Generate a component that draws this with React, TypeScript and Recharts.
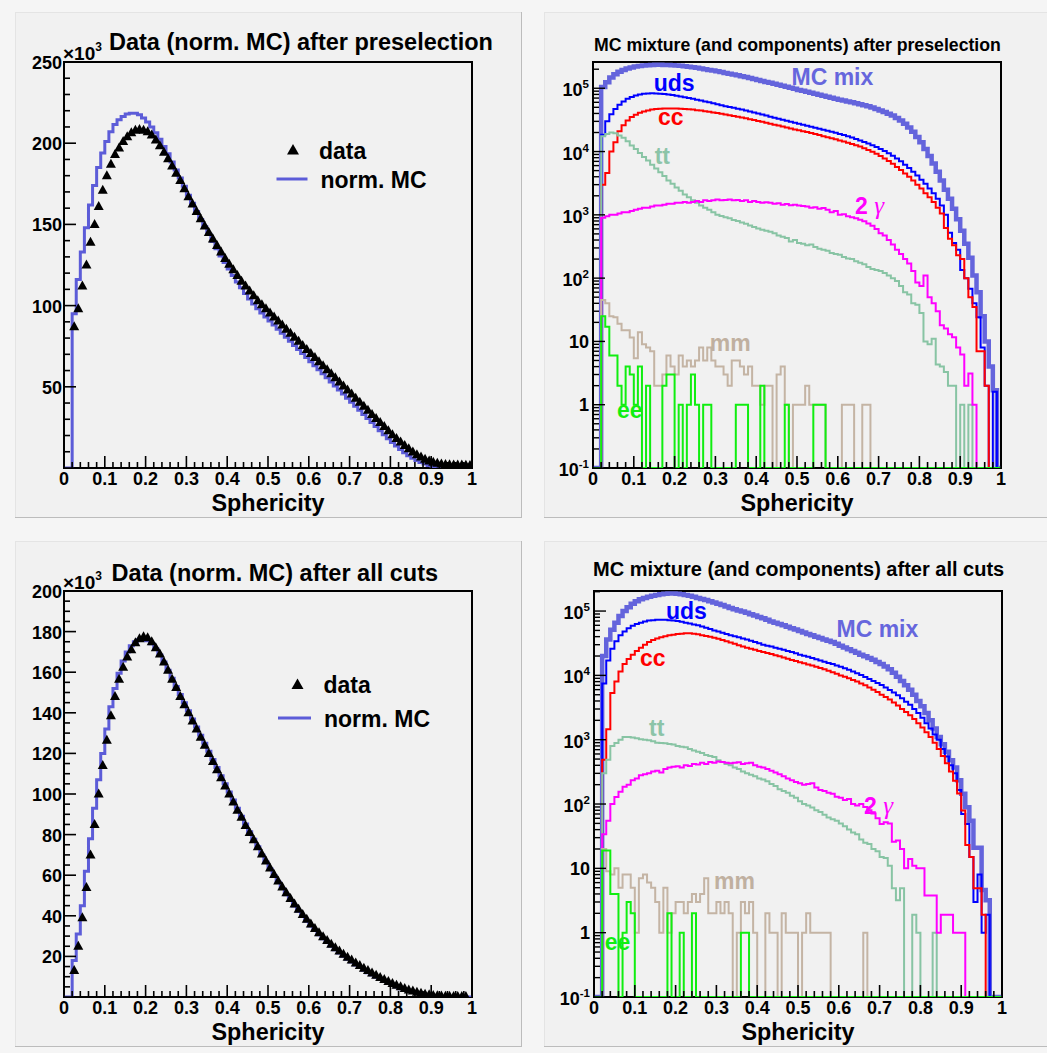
import React from "react";
import { ComposedChart, Line, Scatter, XAxis, YAxis } from "recharts";

const FONT = '"Liberation Sans", Arial, Helvetica, sans-serif';

// ---------- colours ----------
const C_MC = "#5c5cd8";
const C_MIX = "#6464dc";
const C_UDS = "#0000ff";
const C_CC = "#ff0000";
const C_TT = "#88c4a4";
const C_GG = "#ff00ff";
const C_MM = "#c4b4a4";
const C_EE = "#10ee10";

// ---------- top-left: data vs norm. MC after preselection (x10^3) ----------
const TL_MC = [
  0, 0, 95, 116, 133, 148, 162, 174, 185, 194,
  201, 207, 211.5, 214.5, 216.5, 218, 218.5, 218.5, 217.5, 215.5,
  213, 210, 206.5, 202.5, 198, 193.5, 188.5, 183.5, 178.5, 173.5,
  168, 163, 158, 153, 148.5, 144, 139.5, 135, 130.5, 126.5,
  122.5, 118.5, 114.5, 111, 107.5, 104, 101, 98, 95.5, 93,
  90.5, 88, 85.5, 83, 80.5, 78, 75.5, 73, 70.5, 68,
  65.5, 63, 60.5, 58, 55.5, 53, 50.5, 48, 45.5, 43,
  40.5, 38, 35.5, 33, 30.5, 28, 25.5, 23, 20.5, 18,
  15.7, 13.5, 11.4, 9.4, 7.6, 6, 4.6, 3.4, 2.4, 1.6,
  1.0, 0.6, 0.35, 0.2, 0.12, 0.08, 0.05, 0.04, 0.03, 0.02,
];
const TL_DATA: (number | null)[] = [
  null, null, 87, 98, 112, 125, 139, 150, 161, 171,
  180, 187, 193, 197, 201, 204, 206.5, 208, 208.5, 208,
  207, 205, 202, 198.5, 194.5, 190.5, 186, 181.5, 177, 172,
  167, 162.5, 158, 153.5, 149, 145, 141, 137, 133, 129,
  125.5, 122, 118.5, 115, 112, 109, 106, 103, 100.5, 98,
  95.5, 93, 90.5, 88, 85.5, 83, 80.5, 78, 75.5, 73,
  70.5, 68, 65.5, 63, 60.5, 58, 55.5, 53, 50.5, 48,
  45.5, 43, 40.5, 38, 35.5, 33, 30.5, 28, 25.5, 23,
  20.5, 18.2, 16, 13.8, 11.8, 9.9, 8.2, 6.7, 5.4, 4.3,
  3.5, 2.9, 2.5, 2.2, 2.0, 1.9, 1.8, 1.8, 1.7, 1.6,
];

// ---------- bottom-left: data vs norm. MC after all cuts (x10^3) ----------
const BL_MC = [
  0, 0, 18, 31, 45, 62, 78, 93, 107, 120,
  132, 143, 152, 159.5, 165.5, 170, 173, 175, 176, 176,
  175.5, 174, 171.5, 168.5, 165, 161, 157, 153, 149, 145,
  141, 137, 133, 129, 125, 121, 117, 113, 109, 105,
  101, 97, 93, 89, 85.2, 81.4, 77.7, 74, 70, 66.5,
  63, 59.7, 56.5, 53.4, 50.4, 47.5, 44.8, 42.2, 39.7, 37.3,
  35, 32.8, 30.7, 28.7, 26.8, 25, 23.3, 21.7, 20.1, 18.6,
  17.2, 15.8, 14.5, 13.2, 12, 10.8, 9.7, 8.6, 7.6, 6.6,
  5.7, 4.9, 4.1, 3.4, 2.8, 2.2, 1.7, 1.3, 1.0, 0.7,
  0.5, 0.35, 0.25, 0.15, 0.1, 0.06, 0.04, 0.03, 0.02, 0.01,
];
const BL_DATA: (number | null)[] = [
  null, null, 13, 25, 39, 54, 70, 85, 100, 114,
  126.5, 138.5, 148, 156.5, 162.5, 167.5, 171, 174.5, 176.5, 177.5,
  177, 175, 172, 169, 165, 161, 156.5, 152.5, 148, 144,
  140, 136, 132, 128, 124, 120, 116, 112, 108, 104,
  100, 96, 92, 88.5, 84.5, 81, 77.5, 74, 70.5, 67,
  63.5, 60.3, 57.2, 54.2, 51.3, 48.5, 45.8, 43.2, 40.7, 38.3,
  36, 33.8, 31.7, 29.7, 27.8, 26, 24.3, 22.7, 21.1, 19.6,
  18.2, 16.8, 15.5, 14.2, 13, 11.8, 10.7, 9.6, 8.6, 7.6,
  6.7, 5.8, 5, 4.2, 3.5, 2.9, 2.3, 1.8, 1.4, 1.1,
  0.8, 0.6, 0.5, 0.4, 0.35, 0.3, 0.3, 0.2, 0.2, null,
];

// ---------- top-right: MC mixture and components after preselection ----------
const TR_MIX = [
  0, 0, 1.05e5, 1.25e5, 1.48e5, 1.66e5, 1.82e5, 1.95e5, 2.05e5, 2.13e5,
  2.2e5, 2.25e5, 2.29e5, 2.32e5, 2.34e5, 2.35e5, 2.35e5, 2.34e5, 2.33e5, 2.31e5,
  2.29e5, 2.26e5, 2.22e5, 2.18e5, 2.14e5, 2.1e5, 2.05e5, 2.0e5, 1.95e5, 1.9e5,
  1.85e5, 1.8e5, 1.75e5, 1.7e5, 1.65e5, 1.6e5, 1.55e5, 1.5e5, 1.45e5, 1.4e5,
  1.35e5, 1.3e5, 1.26e5, 1.22e5, 1.18e5, 1.14e5, 1.1e5, 1.06e5, 1.02e5, 9.8e4,
  9.4e4, 9.1e4, 8.8e4, 8.5e4, 8.2e4, 7.9e4, 7.6e4, 7.35e4, 7.1e4, 6.85e4,
  6.6e4, 6.4e4, 6.2e4, 6.0e4, 5.8e4, 5.6e4, 5.4e4, 5.2e4, 4.95e4, 4.7e4,
  4.45e4, 4.2e4, 3.95e4, 3.7e4, 3.4e4, 3.1e4, 2.75e4, 2.4e4, 2.05e4, 1.7e4,
  1.4e4, 1.1e4, 8.5e3, 6.5e3, 4.8e3, 3.5e3, 2.5e3, 1.8e3, 1.25e3, 850,
  560, 350, 210, 110, 60, 25, 10, 4, 1.7, 0,
];
const TR_UDS = [
  0, 0, 1.85e4, 3.0e4, 3.9e4, 4.7e4, 5.5e4, 6.2e4, 6.8e4, 7.3e4,
  7.7e4, 8.0e4, 8.2e4, 8.3e4, 8.35e4, 8.3e4, 8.2e4, 8.1e4, 7.95e4, 7.8e4,
  7.6e4, 7.4e4, 7.2e4, 7.0e4, 6.8e4, 6.6e4, 6.4e4, 6.2e4, 6.0e4, 5.8e4,
  5.6e4, 5.4e4, 5.2e4, 5.05e4, 4.9e4, 4.75e4, 4.6e4, 4.45e4, 4.3e4, 4.15e4,
  4.0e4, 3.85e4, 3.7e4, 3.55e4, 3.42e4, 3.3e4, 3.18e4, 3.06e4, 2.95e4, 2.85e4,
  2.75e4, 2.65e4, 2.56e4, 2.47e4, 2.38e4, 2.3e4, 2.22e4, 2.14e4, 2.06e4, 1.98e4,
  1.9e4, 1.82e4, 1.74e4, 1.66e4, 1.58e4, 1.5e4, 1.42e4, 1.34e4, 1.26e4, 1.18e4,
  1.1e4, 1.02e4, 9.4e3, 8.6e3, 7.8e3, 7.0e3, 6.2e3, 5.5e3, 4.8e3, 4.2e3,
  3.6e3, 3.1e3, 2.6e3, 2.2e3, 1.8e3, 1.4e3, 1.0e3, 520, 360, 280,
  135, 100, 68, 40, 24, 8, 2, 0, 1.6, 0,
];
const TR_CC = [
  0, 0, 3.0e3, 4.6e3, 1.0e4, 1.4e4, 2.1e4, 2.6e4, 3.1e4, 3.5e4,
  3.8e4, 4.1e4, 4.3e4, 4.45e4, 4.6e4, 4.7e4, 4.75e4, 4.8e4, 4.8e4, 4.8e4,
  4.8e4, 4.75e4, 4.7e4, 4.65e4, 4.6e4, 4.5e4, 4.45e4, 4.35e4, 4.25e4, 4.15e4,
  4.05e4, 3.95e4, 3.85e4, 3.75e4, 3.65e4, 3.55e4, 3.45e4, 3.35e4, 3.25e4, 3.15e4,
  3.05e4, 2.95e4, 2.85e4, 2.75e4, 2.66e4, 2.57e4, 2.48e4, 2.4e4, 2.32e4, 2.24e4,
  2.17e4, 2.1e4, 2.03e4, 1.96e4, 1.89e4, 1.82e4, 1.75e4, 1.68e4, 1.62e4, 1.56e4,
  1.5e4, 1.44e4, 1.38e4, 1.32e4, 1.26e4, 1.2e4, 1.13e4, 1.06e4, 9.9e3, 9.2e3,
  8.5e3, 7.8e3, 7.1e3, 6.4e3, 5.7e3, 5.1e3, 4.5e3, 4.0e3, 3.5e3, 3.0e3,
  2.6e3, 2.2e3, 1.9e3, 1.6e3, 1.3e3, 1.05e3, 620, 420, 330, 230,
  200, 100, 50, 35, 7, 7, 2, 0, 0, 0,
];
const TR_TT = [
  0, 0, 1.75e4, 1.9e4, 2.0e4, 1.95e4, 1.8e4, 1.65e4, 1.45e4, 1.25e4,
  1.1e4, 9.5e3, 8.2e3, 7.2e3, 6.2e3, 5.4e3, 4.7e3, 4.1e3, 3.5e3, 3.1e3,
  2.7e3, 2.4e3, 2.1e3, 1.9e3, 1.7e3, 1.55e3, 1.4e3, 1.3e3, 1.2e3, 1.1e3,
  1.0e3, 960, 920, 880, 830, 800, 760, 720, 680, 640,
  610, 580, 560, 540, 510, 470, 450, 430, 380, 400,
  360, 350, 330, 340, 310, 290, 280, 270, 250, 240,
  235, 215, 205, 200, 185, 175, 165, 150, 140, 135,
  130, 120, 110, 100, 90, 75, 60, 55, 40, 38,
  28, 10, 9, 11, 4.3, 4, 3.3, 2, 2, 0,
  1, 0, 1, 0, 0, 0, 0, 0, 0, 0,
];
const TR_GG = [
  0, 0, 900, 950, 1000, 1.0e3, 1.05e3, 1.1e3, 1.1e3, 1.15e3,
  1.2e3, 1.25e3, 1.3e3, 1.3e3, 1.35e3, 1.4e3, 1.4e3, 1.45e3, 1.5e3, 1.5e3,
  1.55e3, 1.55e3, 1.6e3, 1.55e3, 1.6e3, 1.65e3, 1.6e3, 1.7e3, 1.65e3, 1.7e3,
  1.75e3, 1.7e3, 1.72e3, 1.75e3, 1.7e3, 1.72e3, 1.65e3, 1.7e3, 1.6e3, 1.65e3,
  1.6e3, 1.55e3, 1.58e3, 1.55e3, 1.5e3, 1.52e3, 1.45e3, 1.48e3, 1.42e3, 1.45e3,
  1.4e3, 1.38e3, 1.35e3, 1.3e3, 1.32e3, 1.25e3, 1.28e3, 1.2e3, 1.1e3, 1.15e3,
  1.0e3, 1.02e3, 950, 920, 880, 840, 790, 730, 670, 600,
  510, 470, 400, 340, 280, 240, 200, 170, 130, 85,
  75, 110, 50, 40, 30, 18, 16, 13, 11.6, 8,
  6.2, 2, 3.1, 1, 0, 0, 0, 0, 0, 0,
];
const TR_MM = [
  0, 0, 45, 40, 25, 24, 19, 15, 15, 11.5,
  5.4, 14, 9, 8, 7, 2, 2, 3, 6, 4,
  3, 6, 4, 5, 4, 5, 8, 5, 8, 5,
  4, 4, 3, 2, 5, 5, 4, 3, 4, 2,
  2, 1, 2, 2, 0, 3, 4, 1, 0, 1,
  1, 1, 2, 1, 1, 1, 1, 0, 0, 0,
  0, 1, 1, 1, 0, 0, 1, 1, 0, 0,
  0, 0, 0, 0, 0, 0, 0, 0, 0, 0,
  0, 0, 0, 0, 0, 0, 0, 0, 0, 0,
  0, 0, 0, 0, 0, 0, 0, 0, 0, 0,
];
const TR_EE = [
  0, 0, 25, 17, 6, 6, 2, 1, 4, 3,
  1, 4, 0, 2, 0, 0, 0, 2, 3, 3,
  0, 1, 0, 1, 3, 1, 0, 1, 1, 0,
  0, 0, 0, 0, 0, 1, 1, 1, 0, 0,
  0, 2, 0, 0, 0, 0, 0, 1, 0, 0,
  0, 0, 0, 0, 1, 1, 1, 0, 0, 0,
  0, 0, 0, 0, 0, 0, 0, 0, 0, 0,
  0, 0, 0, 0, 0, 0, 0, 0, 0, 0,
  0, 0, 0, 0, 0, 0, 0, 0, 0, 0,
  0, 0, 0, 0, 0, 0, 0, 0, 0, 0,
];

// ---------- bottom-right: MC mixture and components after all cuts ----------
const BR_MIX = [
  0, 0, 2.0e4, 3.6e4, 5.1e4, 6.6e4, 8.4e4, 1.0e5, 1.15e5, 1.3e5,
  1.42e5, 1.52e5, 1.6e5, 1.67e5, 1.73e5, 1.78e5, 1.82e5, 1.85e5, 1.87e5, 1.88e5,
  1.86e5, 1.83e5, 1.78e5, 1.73e5, 1.67e5, 1.6e5, 1.54e5, 1.48e5, 1.42e5, 1.36e5,
  1.3e5, 1.24e5, 1.18e5, 1.12e5, 1.07e5, 1.02e5, 9.8e4, 9.4e4, 8.9e4, 8.5e4,
  8.1e4, 7.7e4, 7.3e4, 6.9e4, 6.6e4, 6.3e4, 6.0e4, 5.7e4, 5.4e4, 5.15e4,
  4.9e4, 4.65e4, 4.4e4, 4.2e4, 4.0e4, 3.8e4, 3.6e4, 3.45e4, 3.3e4, 3.1e4,
  2.9e4, 2.72e4, 2.55e4, 2.4e4, 2.25e4, 2.1e4, 1.98e4, 1.86e4, 1.75e4, 1.62e4,
  1.5e4, 1.38e4, 1.25e4, 1.1e4, 9.5e3, 8.2e3, 7.0e3, 6.0e3, 5.0e3, 4.0e3,
  3.3e3, 2.6e3, 2.0e3, 1.5e3, 1.1e3, 850, 650, 480, 370, 234,
  145, 89, 55, 21, 21, 4.6, 3.2, 0, 0, 0,
];
const BR_UDS = [
  0, 0, 7.5e3, 1.7e4, 2.6e4, 3.4e4, 4.2e4, 4.8e4, 5.4e4, 5.9e4,
  6.3e4, 6.6e4, 6.9e4, 7.1e4, 7.2e4, 7.3e4, 7.35e4, 7.3e4, 7.2e4, 7.1e4,
  7.0e4, 6.8e4, 6.6e4, 6.4e4, 6.2e4, 6.0e4, 5.75e4, 5.5e4, 5.25e4, 5.0e4,
  4.8e4, 4.6e4, 4.4e4, 4.2e4, 4.05e4, 3.9e4, 3.75e4, 3.6e4, 3.45e4, 3.3e4,
  3.15e4, 3.0e4, 2.9e4, 2.8e4, 2.7e4, 2.6e4, 2.5e4, 2.4e4, 2.3e4, 2.2e4,
  2.1e4, 2.02e4, 1.94e4, 1.86e4, 1.78e4, 1.7e4, 1.63e4, 1.56e4, 1.5e4, 1.43e4,
  1.36e4, 1.29e4, 1.22e4, 1.15e4, 1.08e4, 1.01e4, 9.4e3, 8.8e3, 8.2e3, 7.6e3,
  7.1e3, 6.5e3, 5.9e3, 5.4e3, 4.9e3, 4.4e3, 3.9e3, 3.5e3, 3.0e3, 2.6e3,
  2.2e3, 1.8e3, 1.5e3, 1.2e3, 1.0e3, 720, 550, 400, 300, 165,
  70, 49, 15, 3, 8, 1, 1.9, 0, 0, 0,
];
const BR_CC = [
  0, 0, 490, 1.45e3, 5.3e3, 8e3, 1.15e4, 1.5e4, 1.8e4, 2.1e4,
  2.4e4, 2.7e4, 3.0e4, 3.3e4, 3.55e4, 3.75e4, 3.9e4, 4.05e4, 4.2e4, 4.3e4,
  4.4e4, 4.45e4, 4.5e4, 4.5e4, 4.45e4, 4.35e4, 4.2e4, 4.1e4, 3.98e4, 3.85e4,
  3.7e4, 3.55e4, 3.4e4, 3.25e4, 3.1e4, 2.95e4, 2.8e4, 2.7e4, 2.6e4, 2.5e4,
  2.4e4, 2.3e4, 2.22e4, 2.14e4, 2.06e4, 1.98e4, 1.9e4, 1.82e4, 1.74e4, 1.67e4,
  1.6e4, 1.54e4, 1.48e4, 1.42e4, 1.36e4, 1.3e4, 1.24e4, 1.18e4, 1.12e4, 1.06e4,
  1.0e4, 9.5e3, 9.0e3, 8.5e3, 8.0e3, 7.5e3, 7.0e3, 6.5e3, 6.0e3, 5.5e3,
  5.0e3, 4.6e3, 4.2e3, 3.8e3, 3.4e3, 3.0e3, 2.7e3, 2.4e3, 2.1e3, 1.8e3,
  1.55e3, 1.3e3, 1.1e3, 900, 720, 560, 430, 320, 230, 146,
  79, 23, 15, 4.9, 4.9, 1.9, 0, 0, 0, 0,
];
const BR_TT = [
  0, 0, 300, 490, 800, 890, 1.0e3, 1.1e3, 1.1e3, 1.08e3,
  1.05e3, 1.02e3, 1.0e3, 980, 950, 900, 890, 880, 860, 840,
  800, 780, 760, 720, 680, 650, 620, 580, 560, 540,
  480, 450, 420, 400, 370, 350, 320, 300, 285, 270,
  250, 240, 225, 205, 190, 170, 160, 150, 135, 125,
  110, 100, 95, 88, 80, 75, 68, 62, 58, 55,
  50, 45, 40, 36, 34, 28, 25, 24, 20, 18.5,
  15, 14.5, 11, 4.9, 3.2, 4.9, 0, 0, 1.9, 1,
  0, 0, 0, 1, 0, 0, 0, 0, 0, 0,
  0, 0, 0, 0, 0, 0, 0, 0, 0, 0,
];
const BR_GG = [
  0, 0, 34, 55, 100, 129, 155, 186, 200, 234,
  250, 280, 290, 300, 320, 330, 310, 350, 370, 380,
  385, 370, 400, 390, 420, 410, 440, 420, 450, 440,
  460, 450, 440, 430, 440, 445, 420, 430, 440, 400,
  380, 370, 350, 330, 310, 290, 270, 250, 234, 220,
  210, 200, 205, 210, 180, 165, 160, 150, 145, 130,
  125, 115, 120, 100, 95, 100, 90, 80, 71, 60,
  49, 52, 50, 26, 27, 20, 10, 14, 11, 10,
  10, 3.8, 3.8, 3.8, 1, 1.9, 1.9, 1.9, 1, 1,
  1, 0, 0, 0, 0, 0, 0, 0, 0, 0,
];
const BR_MM = [
  0, 0, 20, 9, 8, 10, 5, 8, 8, 5,
  1, 7, 8, 6, 5, 3, 1, 5, 1, 2,
  3, 3, 2, 3, 4, 3, 4, 7, 2, 2,
  3, 2, 3, 2, 0, 1, 3, 2, 3, 1,
  0, 0, 2, 1, 1, 0, 2, 1, 1, 1,
  0, 1, 2, 1, 1, 1, 1, 1, 0, 0,
  0, 0, 0, 0, 0, 0, 1, 0, 0, 0,
  0, 0, 0, 0, 0, 0, 0, 0, 0, 0,
  0, 0, 0, 0, 0, 0, 0, 0, 0, 0,
  0, 0, 0, 0, 0, 0, 0, 0, 0, 0,
];
const BR_EE = [
  0, 0, 19, 19, 4, 4, 0, 1, 3, 2,
  0, 0, 0, 0, 0, 0, 0, 0, 2, 0,
  0, 1, 0, 0, 2, 0, 0, 0, 0, 0,
  0, 0, 0, 0, 0, 0, 1, 1, 0, 0,
  0, 0, 0, 0, 0, 0, 0, 0, 0, 0,
  0, 0, 0, 0, 0, 0, 0, 0, 0, 0,
  0, 0, 0, 0, 0, 0, 0, 0, 0, 0,
  0, 0, 0, 0, 0, 0, 0, 0, 0, 0,
  0, 0, 0, 0, 0, 0, 0, 0, 0, 0,
  0, 0, 0, 0, 0, 0, 0, 0, 0, 0,
];

// ---------- axis tick lists ----------
const NBINS = 100;
const X_TICKS = Array.from({ length: 51 }, (_, i) => i / 50);
const TL_Y_TICKS = Array.from({ length: 26 }, (_, i) => i * 10);
const BL_Y_TICKS = Array.from({ length: 41 }, (_, i) => i * 5);
function logTicks(max: number) {
  const out: number[] = [];
  for (let e = -1; e <= 5; e++) {
    for (let m = 1; m <= 9; m++) {
      const v = m * Math.pow(10, e);
      if (v <= max * 1.0001) out.push(v);
    }
  }
  return out;
}
const TR_YMAX = 2.6e5;
const BR_YMAX = 2.05e5;

// ---------- table builders ----------
type Row = { x: number; y: number };
function stepRows(vals: number[], floor: number): Row[] {
  const rows: Row[] = vals.map((v, i) => ({ x: i / NBINS, y: Math.max(v, floor) }));
  rows.push({ x: 1, y: rows[rows.length - 1].y });
  return rows;
}
function pointRows(vals: (number | null)[]): Row[] {
  const out: Row[] = [];
  vals.forEach((v, i) => {
    if (v !== null) out.push({ x: (i + 0.5) / NBINS, y: v });
  });
  return out;
}

// ---------- tick renderers ----------
function XTick(props: any) {
  const { x, y, payload } = props;
  const k = Math.round(payload.value * 50);
  const major = k % 5 === 0;
  const label = k === 0 ? "0" : k === 50 ? "1" : (k / 50).toFixed(1);
  return (
    <g>
      <line x1={x} x2={x} y1={y} y2={y - (major ? 12 : 6)} stroke="#000" strokeWidth={1.6} />
      {major && (
        <text x={x} y={y + 17} textAnchor="middle" fontFamily={FONT} fontWeight="bold" fontSize={18} fill="#000">
          {label}
        </text>
      )}
    </g>
  );
}
function makeLinYTick(majorStep: number) {
  return function LinYTick(props: any) {
    const { x, y, payload } = props;
    const v = payload.value as number;
    const major = Math.abs(v / majorStep - Math.round(v / majorStep)) < 1e-6;
    return (
      <g>
        <line x1={x} x2={x + (major ? 12 : 6)} y1={y} y2={y} stroke="#000" strokeWidth={1.6} />
        {major && v > 0 && (
          <text x={x - 2} y={y + 7} textAnchor="end" fontFamily={FONT} fontWeight="bold" fontSize={18} fill="#000">
            {v}
          </text>
        )}
      </g>
    );
  };
}
function LogYTick(props: any) {
  const { x, y, payload } = props;
  const v = payload.value as number;
  const lg = Math.log10(v);
  const e = Math.round(lg);
  const major = Math.abs(lg - e) < 1e-6;
  let label: React.ReactNode = null;
  if (major) {
    if (e === 0) label = <text x={x - 4} y={y + 6.5} textAnchor="end" fontFamily={FONT} fontWeight="bold" fontSize={18} fill="#000">1</text>;
    else if (e === 1) label = <text x={x - 4} y={y + 6.5} textAnchor="end" fontFamily={FONT} fontWeight="bold" fontSize={18} fill="#000">10</text>;
    else
      label = (
        <text x={x - 4} y={y + 8} textAnchor="end" fontFamily={FONT} fontWeight="bold" fontSize={18} fill="#000">
          10<tspan dy={-8} fontSize={11.5}>{e}</tspan>
        </text>
      );
  }
  return (
    <g>
      <line x1={x} x2={x + (major ? 12 : 6)} y1={y} y2={y} stroke="#000" strokeWidth={1.4} />
      {label}
    </g>
  );
}

const Tri = (props: any) => {
  const { cx, cy } = props;
  if (cx == null || cy == null) return <g />;
  return <polygon points={`${cx},${cy - 5.5} ${cx - 5},${cy + 3.5} ${cx + 5},${cy + 3.5}`} fill="#000" />;
};

// ---------- panel frame ----------
const PW = 408;
const PH = 406;
type Cfg = { left: number; top: number; w: number; h: number; px: number; py: number; rightBorder: boolean };
const CFG_TL: Cfg = { left: 15, top: 12, w: 507, h: 506, px: 49, py: 50, rightBorder: true };
const CFG_TR: Cfg = { left: 544, top: 12, w: 503, h: 506, px: 49, py: 50, rightBorder: false };
const CFG_BL: Cfg = { left: 15, top: 541, w: 507, h: 506, px: 49, py: 50, rightBorder: true };
const CFG_BR: Cfg = { left: 544, top: 541, w: 503, h: 506, px: 50, py: 50, rightBorder: false };

function Panel(props: { cfg: Cfg; yAxis: React.ReactElement; series: React.ReactElement[]; overlay: React.ReactNode }) {
  const { cfg, yAxis, series, overlay } = props;
  const { left, top, w, h, px, py } = cfg;
  return (
    <div style={{ position: "absolute", left, top, width: w, height: h }}>
      <svg width={w} height={h} style={{ position: "absolute", left: 0, top: 0 }}>
        <rect x={0} y={0} width={w} height={h} fill="#f1f1f1" />
        <line x1={0} y1={0.5} x2={w} y2={0.5} stroke="#e4e4e4" />
        <line x1={0.5} y1={0} x2={0.5} y2={h} stroke="#e4e4e4" />
        <line x1={0} y1={h - 0.5} x2={w} y2={h - 0.5} stroke="#bcbcbc" />
        {cfg.rightBorder && <line x1={w - 0.5} y1={0} x2={w - 0.5} y2={h} stroke="#bcbcbc" />}
        <rect x={px} y={py} width={PW} height={PH} fill="none" stroke="#000" strokeWidth={2} />
      </svg>
      <div style={{ position: "absolute", left: 0, top: 0 }}>
        <ComposedChart
          width={w}
          height={h}
          margin={{ top: py, left: px - 1, right: w - px - PW, bottom: h - py - PH - 1 }}
        >
          <XAxis
            type="number"
            dataKey="x"
            domain={[0, 1]}
            ticks={X_TICKS}
            interval={0}
            tick={XTick}
            tickLine={false}
            axisLine={false}
            tickSize={0}
            tickMargin={0}
            height={1}
            allowDataOverflow
          />
          {yAxis}
          {series}
        </ComposedChart>
      </div>
      <svg width={w} height={h} style={{ position: "absolute", left: 0, top: 0, pointerEvents: "none" }}>
        {overlay}
      </svg>
    </div>
  );
}

const T = (p: any) => <text fontFamily={FONT} fontWeight="bold" {...p} />;

function linYAxis(max: number, ticks: number[], majorStep: number) {
  return (
    <YAxis
      key="y"
      type="number"
      dataKey="y"
      domain={[0, max]}
      ticks={ticks}
      interval={0}
      tick={makeLinYTick(majorStep)}
      tickLine={false}
      axisLine={false}
      tickSize={0}
      tickMargin={0}
      width={1}
      allowDataOverflow
    />
  );
}
function logYAxis(max: number) {
  return (
    <YAxis
      key="y"
      type="number"
      dataKey="y"
      scale="log"
      domain={[0.1, max]}
      ticks={logTicks(max)}
      interval={0}
      tick={LogYTick}
      tickLine={false}
      axisLine={false}
      tickSize={0}
      tickMargin={0}
      width={1}
      allowDataOverflow
    />
  );
}

function stepLine(key: string, vals: number[], color: string, width: number, floor: number) {
  return (
    <Line
      key={key}
      data={stepRows(vals, floor)}
      dataKey="y"
      type="stepAfter"
      stroke={color}
      strokeWidth={width}
      dot={false}
      activeDot={false}
      isAnimationActive={false}
      strokeLinejoin="miter"
    />
  );
}

function LegendBlock(props: { tx: number; ty: number; lx1: number; lx2: number; ly: number }) {
  const { tx, ty, lx1, lx2, ly } = props;
  return (
    <g>
      <polygon points={`${tx},${ty - 6} ${tx - 6},${ty + 4.5} ${tx + 6},${ty + 4.5}`} fill="#000" />
      <T x={tx + 26} y={ty + 8.5} fontSize={23} fill="#000">data</T>
      <line x1={lx1} x2={lx2} y1={ly} y2={ly} stroke={C_MC} strokeWidth={3} />
      <T x={lx2 + 13} y={ly + 8.5} fontSize={23} fill="#000">norm. MC</T>
    </g>
  );
}

function Gamma(props: { x: number; y: number; size: number }) {
  return (
    <text x={props.x} y={props.y} fill={C_GG} fontSize={props.size}>
      <tspan fontFamily={FONT} fontWeight="bold">2 </tspan>
      <tspan fontFamily='"Liberation Serif", "DejaVu Serif", serif' fontStyle="italic" fontSize={props.size + 2}>γ</tspan>
    </text>
  );
}

export default function App() {
  return (
    <div style={{ position: "absolute", left: 0, top: 0, width: 1047, height: 1053, background: "#f5f5f5", overflow: "hidden" }}>
      {/* top-left */}
      <Panel
        cfg={CFG_TL}
        yAxis={linYAxis(250, TL_Y_TICKS, 50)}
        series={[
          stepLine("mc", TL_MC, C_MC, 3, 0),
          <Scatter key="data" data={pointRows(TL_DATA)} dataKey="y" shape={Tri} fill="#000" isAnimationActive={false} />,
        ]}
        overlay={
          <g>
            <T x={94} y={37.5} fontSize={23.5} fill="#000">Data (norm. MC) after preselection</T>
            <T x={48} y={48} fontSize={19} fill="#000">
              ×10<tspan dy={-9} fontSize={12}>3</tspan>
            </T>
            <LegendBlock tx={278} ty={138} lx1={261.5} lx2={292.5} ly={167} />
            <T x={253} y={499} fontSize={23.4} textAnchor="middle" fill="#000">Sphericity</T>
          </g>
        }
      />
      {/* top-right */}
      <Panel
        cfg={CFG_TR}
        yAxis={logYAxis(TR_YMAX)}
        series={[
          stepLine("mix", TR_MIX, C_MIX, 4.5, 0.1),
          stepLine("uds", TR_UDS, C_UDS, 2, 0.1),
          stepLine("cc", TR_CC, C_CC, 2, 0.1),
          stepLine("tt", TR_TT, C_TT, 2, 0.1),
          stepLine("gg", TR_GG, C_GG, 2, 0.1),
          stepLine("mm", TR_MM, C_MM, 2, 0.1),
          stepLine("ee", TR_EE, C_EE, 2, 0.1),
        ]}
        overlay={
          <g>
            <T x={50} y={38.5} fontSize={17.7} fill="#000">MC mixture (and components) after preselection</T>
            <T x={109.7} y={79} fontSize={23} fill={C_UDS}>uds</T>
            <T x={247.5} y={73.3} fontSize={23} fill="#6666dd">MC mix</T>
            <T x={114} y={113} fontSize={23} fill={C_CC}>cc</T>
            <T x={110.7} y={151.7} fontSize={23} fill="#8cc4a8">tt</T>
            <Gamma x={311} y={202.3} size={23} />
            <T x={165.7} y={338.6} fontSize={23} fill="#c0b0a0">mm</T>
            <T x={73} y={406} fontSize={23} fill={C_EE}>ee</T>
            <T x={253} y={499} fontSize={23.4} textAnchor="middle" fill="#000">Sphericity</T>
          </g>
        }
      />
      {/* bottom-left */}
      <Panel
        cfg={CFG_BL}
        yAxis={linYAxis(200, BL_Y_TICKS, 20)}
        series={[
          stepLine("mc", BL_MC, C_MC, 3, 0),
          <Scatter key="data" data={pointRows(BL_DATA)} dataKey="y" shape={Tri} fill="#000" isAnimationActive={false} />,
        ]}
        overlay={
          <g>
            <T x={96.6} y={39.5} fontSize={23.5} fill="#000">Data (norm. MC) after all cuts</T>
            <T x={48} y={48} fontSize={19} fill="#000">
              ×10<tspan dy={-9} fontSize={12}>3</tspan>
            </T>
            <LegendBlock tx={282.5} ty={143.6} lx1={263} lx2={296} ly={177} />
            <T x={253} y={498.5} fontSize={23.4} textAnchor="middle" fill="#000">Sphericity</T>
          </g>
        }
      />
      {/* bottom-right */}
      <Panel
        cfg={CFG_BR}
        yAxis={logYAxis(BR_YMAX)}
        series={[
          stepLine("mix", BR_MIX, C_MIX, 4.5, 0.1),
          stepLine("uds", BR_UDS, C_UDS, 2, 0.1),
          stepLine("cc", BR_CC, C_CC, 2, 0.1),
          stepLine("tt", BR_TT, C_TT, 2, 0.1),
          stepLine("gg", BR_GG, C_GG, 2, 0.1),
          stepLine("mm", BR_MM, C_MM, 2, 0.1),
          stepLine("ee", BR_EE, C_EE, 2, 0.1),
        ]}
        overlay={
          <g>
            <T x={49} y={35} fontSize={20} fill="#000">MC mixture (and components) after all cuts</T>
            <T x={122} y={77.8} fontSize={23} fill={C_UDS}>uds</T>
            <T x={292.5} y={96} fontSize={23} fill="#6666dd">MC mix</T>
            <T x={96} y={124.7} fontSize={23} fill={C_CC}>cc</T>
            <T x={105} y={195.3} fontSize={23} fill="#8cc4a8">tt</T>
            <Gamma x={320} y={273.3} size={23} />
            <T x={170} y={347.6} fontSize={23} fill="#c0b0a0">mm</T>
            <T x={60.7} y={408.6} fontSize={23} fill={C_EE}>ee</T>
            <T x={254} y={498.5} fontSize={23.4} textAnchor="middle" fill="#000">Sphericity</T>
          </g>
        }
      />
    </div>
  );
}
